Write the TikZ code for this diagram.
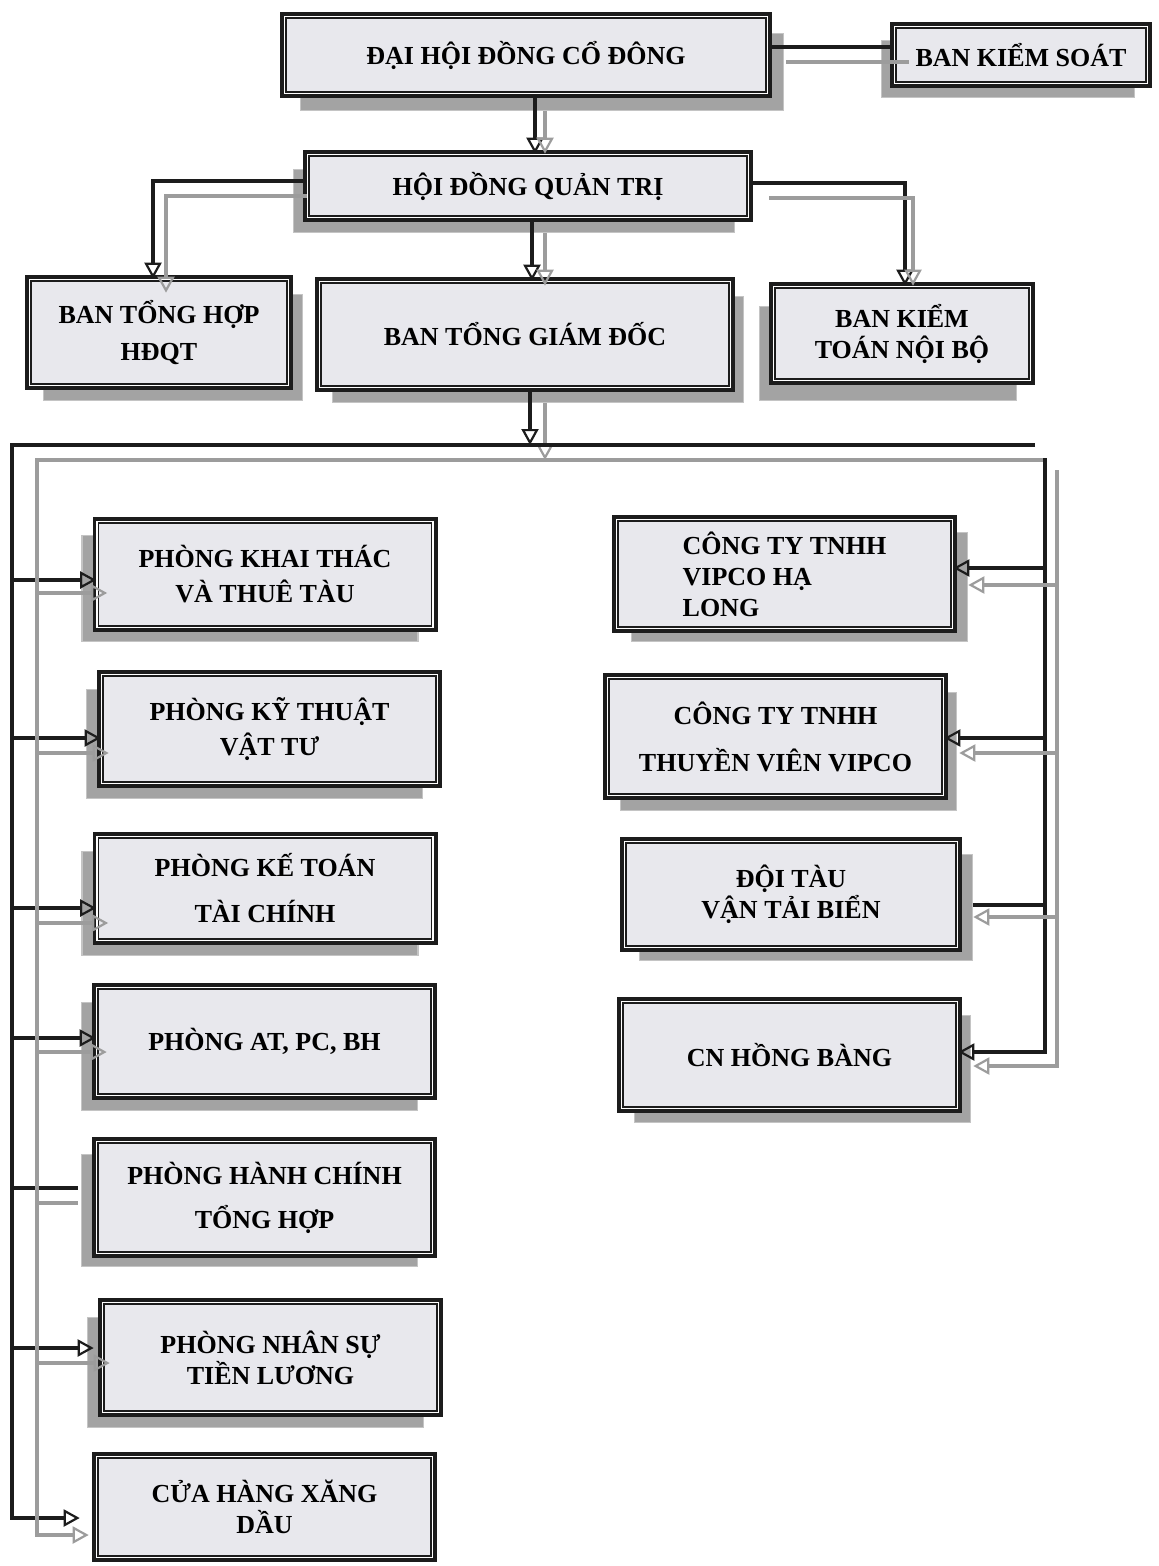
\documentclass[tikz,border=0pt]{standalone}
\usepackage{fontspec}
\setmainfont{Liberation Serif}
\usetikzlibrary{arrows.meta,shadows}
\definecolor{boxfill}{HTML}{E8E8ED}
\definecolor{shadowgrey}{HTML}{A3A3A3}
\definecolor{shadowedge}{HTML}{C4C4C4}
\definecolor{ink}{HTML}{1C1C1C}
\definecolor{greyink}{HTML}{9C9C9C}
\tikzset{
  orgunit/.style={preaction={draw=ink,line width=9pt},draw=ink,double=white,line width=1.6pt,
    double distance=1.3pt,fill=boxfill,align=center,inner sep=0pt,
    font=\bfseries\fontsize{26}{31}\selectfont},
  raised/.style 2 args={drop shadow={shadow xshift=#1,shadow yshift=#2,fill=shadowgrey,
    draw=shadowedge,line width=1.2pt,opacity=1}},
  kline/.style={draw=ink,line width=4pt},
  gline/.style={draw=greyink,line width=3.6pt},
  karrow/.style={kline,-{Triangle[open,length=16pt,width=17pt,line width=2.2pt]}},
  garrow/.style={gline,-{Triangle[open,length=16pt,width=17pt,line width=2.2pt]}}}

\begin{document}
\begin{tikzpicture}[x=1pt,y=-1pt]
\fill[white] (0,0) rectangle (1159,1566);
\useasboundingbox (0,0) rectangle (1159,1566);
\node[raised={16pt}{-17pt},orgunit,minimum width=483pt,minimum height=77pt] (dhdcd) at (526,55) {ĐẠI HỘI ĐỒNG CỔ ĐÔNG};
\node[raised={-13pt}{-14pt},orgunit,minimum width=253pt,minimum height=57pt] (bks) at (1021,55) {BAN KIỂM SOÁT};
\node[raised={-14pt}{-15pt},orgunit,minimum width=441pt,minimum height=63pt] (hdqt) at (528,186) {HỘI ĐỒNG QUẢN TRỊ};
\node[raised={14pt}{-15pt},orgunit,minimum width=259pt,minimum height=106pt] (bth) at (159,332.5) {BAN TỔNG HỢP\\[6pt]HĐQT};
\node[raised={13pt}{-15pt},orgunit,minimum width=411pt,minimum height=106pt] (btgd) at (525,334.5) {BAN TỔNG GIÁM ĐỐC};
\node[raised={-14pt}{-20pt},orgunit,minimum width=257pt,minimum height=94pt] (bktnb) at (902,333.5) {BAN KIỂM\\TOÁN NỘI BỘ};
% phong ban
\node[raised={-15pt}{-14pt},orgunit,minimum width=336pt,minimum height=106pt] (pkt) at (265,574.5) {PHÒNG KHAI THÁC\\[4pt]VÀ THUÊ TÀU};
\node[raised={-15pt}{-15pt},orgunit,minimum width=336pt,minimum height=109pt] (pkyt) at (269.5,729) {PHÒNG KỸ THUẬT\\[4pt]VẬT TƯ};
\node[raised={-15pt}{-15pt},orgunit,minimum width=336pt,minimum height=104pt] (pkttc) at (265,888.5) {PHÒNG KẾ TOÁN\\[15pt]TÀI CHÍNH};
\node[raised={-15pt}{-15pt},orgunit,minimum width=336pt,minimum height=108pt] (pat) at (264.5,1041.5) {PHÒNG AT, PC, BH};
\node[raised={-15pt}{-13pt},orgunit,minimum width=336pt,minimum height=112pt] (phcth) at (264.5,1197.5) {PHÒNG HÀNH CHÍNH\\[13pt]TỔNG HỢP};
\node[raised={-15pt}{-15pt},orgunit,minimum width=336pt,minimum height=110pt] (pnstl) at (270.5,1357.5) {PHÒNG NHÂN SỰ\\TIỀN LƯƠNG};
\node[orgunit,minimum width=336pt,minimum height=101pt] (chxd) at (264.5,1507) {CỬA HÀNG XĂNG\\DẦU};
% don vi
\node[raised={15pt}{-13pt},orgunit,minimum width=336pt,minimum height=109pt,align=left] (vhl) at (784.5,574) {CÔNG TY TNHH\\VIPCO HẠ\\LONG};
\node[raised={13pt}{-15pt},orgunit,minimum width=336pt,minimum height=118pt] (tv) at (775.5,736.5) {CÔNG TY TNHH\\[16pt]THUYỀN VIÊN VIPCO};
\node[raised={15pt}{-13pt},orgunit,minimum width=333pt,minimum height=106pt] (dt) at (791,894.5) {ĐỘI TÀU\\VẬN TẢI BIỂN};
\node[raised={13pt}{-14pt},orgunit,minimum width=336pt,minimum height=107pt] (cnhb) at (789.5,1055) {CN HỒNG BÀNG};

\coordinate (busK) at (12,445); \coordinate (busKr) at (1035,445);
\coordinate (busG) at (37,460); \coordinate (busGr) at (1047,460);
\coordinate (railK) at (1045,458); \coordinate (railG) at (1057,470);

\draw[kline] ([yshift=8pt]dhdcd.east) -- ([yshift=8pt]bks.west);
\draw[gline] ([xshift=18pt,yshift=-7pt]dhdcd.east) -- ([xshift=15pt,yshift=-7pt]bks.west);
\draw[karrow] ([xshift=9pt]dhdcd.south) -- ([xshift=9pt]dhdcd.south |- hdqt.north);
\draw[garrow] ([xshift=19pt,yshift=-17pt]dhdcd.south) -- ([xshift=19pt]dhdcd.south |- hdqt.north);
\draw[karrow] ([xshift=4pt]hdqt.south) -- ([xshift=4pt]hdqt.south |- btgd.north);
\draw[garrow] ([xshift=17pt,yshift=-15pt]hdqt.south) -- ([xshift=17pt,yshift=-5pt]hdqt.south |- btgd.north);
\draw[karrow] ([yshift=5pt]hdqt.west) -| ([xshift=-6pt]bth.north);
\draw[garrow] ([yshift=-10pt]hdqt.west) -| ([xshift=7pt,yshift=-14pt]bth.north);
\draw[karrow] ([yshift=3pt]hdqt.east) -| ([xshift=3pt]bktnb.north);
\draw[garrow] ([xshift=20pt,yshift=-12pt]hdqt.east) -| ([xshift=11pt]bktnb.north);
\draw[garrow] ([xshift=20pt,yshift=-15pt]btgd.south) -- ([xshift=20pt]btgd.south |- busG);
\draw[karrow] ([xshift=5pt]btgd.south) -- ([xshift=5pt]btgd.south |- busK);

\draw[karrow] (busKr) -- (busK) |- ([xshift=-16pt,yshift=-11pt]chxd.west);
\draw[karrow] ([yshift=-5.5pt]pkt.west -| busK) -- ([yshift=-5.5pt]pkt.west);
\draw[karrow] ([yshift=-9pt]pkyt.west -| busK) -- ([yshift=-9pt]pkyt.west);
\draw[karrow] ([yshift=-19.5pt]pkttc.west -| busK) -- ([yshift=-19.5pt]pkttc.west);
\draw[karrow] ([yshift=3.5pt]pat.west -| busK) -- ([yshift=3.5pt]pat.west);
\draw[kline] ([yshift=9.5pt]phcth.west -| busK) -- ([xshift=-18pt,yshift=9.5pt]phcth.west);
\draw[karrow] ([yshift=9.5pt]pnstl.west -| busK) -- ([xshift=-8pt,yshift=9.5pt]pnstl.west);
\draw[garrow] (busGr) -- (busG) |- ([xshift=-7pt,yshift=-28pt]chxd.west);
\draw[garrow] ([yshift=-18.5pt]pkt.west -| busG) -- ([xshift=11pt,yshift=-18.5pt]pkt.west);
\draw[garrow] ([yshift=-24pt]pkyt.west -| busG) -- ([xshift=8pt,yshift=-24pt]pkyt.west);
\draw[garrow] ([yshift=-34.5pt]pkttc.west -| busG) -- ([xshift=12pt,yshift=-34.5pt]pkttc.west);
\draw[garrow] ([yshift=-10.5pt]pat.west -| busG) -- ([xshift=11pt,yshift=-10.5pt]pat.west);
\draw[gline] ([yshift=-5.5pt]phcth.west -| busG) -- ([xshift=-18pt,yshift=-5.5pt]phcth.west);
\draw[garrow] ([yshift=-5.5pt]pnstl.west -| busG) -- ([xshift=8pt,yshift=-5.5pt]pnstl.west);

\draw[karrow] (railK) |- ([yshift=3pt]cnhb.east);
\draw[karrow] ([yshift=6pt]vhl.east -| railK) -- ([yshift=6pt]vhl.east);
\draw[karrow] ([yshift=-1.5pt]tv.east -| railK) -- ([yshift=-1.5pt]tv.east);
\draw[kline] ([yshift=-10.5pt]dt.east -| railK) -- ([xshift=15pt,yshift=-10.5pt]dt.east);
\draw[garrow] (railG) |- ([xshift=15pt,yshift=-11pt]cnhb.east);
\draw[garrow] ([yshift=-11pt]vhl.east -| railG) -- ([xshift=15pt,yshift=-11pt]vhl.east);
\draw[garrow] ([yshift=-16.5pt]tv.east -| railG) -- ([xshift=15pt,yshift=-16.5pt]tv.east);
\draw[garrow] ([yshift=-22.5pt]dt.east -| railG) -- ([xshift=15pt,yshift=-22.5pt]dt.east);
\end{tikzpicture}
\end{document}
